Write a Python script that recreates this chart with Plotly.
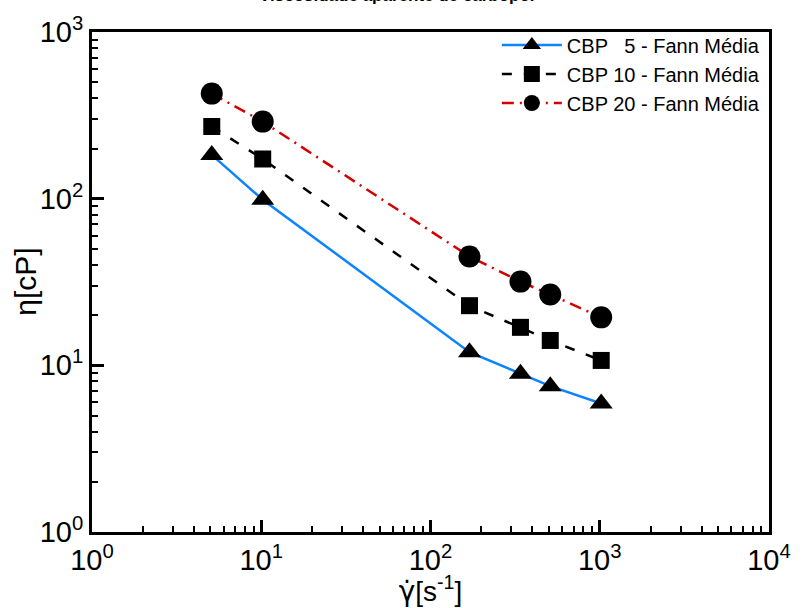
import plotly.graph_objects as go

shear_rate = [5.1, 10.2, 170, 340, 510, 1020]
cbp5 = [183, 98.6, 12.0, 8.9, 7.5, 5.9]
cbp10 = [271, 173, 22.8, 16.9, 14.1, 10.7]
cbp20 = [427, 290, 45, 31.8, 26.6, 19.4]

series_names = ["CBP   5 - Fann Média", "CBP 10 - Fann Média", "CBP 20 - Fann Média"]
tick_vals_x = [1, 10, 100, 1000, 10000]
tick_text_x = ["10<sup>0</sup>", "10<sup>1</sup>", "10<sup>2</sup>", "10<sup>3</sup>", "10<sup>4</sup>"]
tick_vals_y = [1, 10, 100, 1000]
tick_text_y = ["10<sup>0</sup>", "10<sup>1</sup>", "10<sup>2</sup>", "10<sup>3</sup>"]
minor_x = [k * 10 ** d for d in range(0, 4) for k in range(2, 10)]
minor_y = [k * 10 ** d for d in range(0, 3) for k in range(2, 10)]

FONT = "Liberation Sans, Arial, sans-serif"

fig = go.Figure()
fig.add_trace(go.Scatter(
    x=shear_rate, y=cbp5, name=series_names[0], mode="lines+markers",
    line=dict(color="#0a84ff", width=2.5, dash="solid"),
    marker=dict(symbol="triangle-up", size=20, color="black"),
))
fig.add_trace(go.Scatter(
    x=shear_rate, y=cbp10, name=series_names[1], mode="lines+markers",
    line=dict(color="black", width=2.5, dash="10px,12px"),
    marker=dict(symbol="square", size=17, color="black"),
))
fig.add_trace(go.Scatter(
    x=shear_rate, y=cbp20, name=series_names[2], mode="lines+markers",
    line=dict(color="#d40000", width=2.5, dash="12px,6px,2px,6px"),
    marker=dict(symbol="circle", size=22, color="black"),
))

axis_common = dict(
    type="log", showgrid=False, zeroline=False,
    showline=True, linecolor="black", linewidth=3, mirror=True,
    ticks="inside", ticklen=12, tickwidth=2.5, tickcolor="black",
    tickfont=dict(family=FONT, size=29, color="black"),
)

fig.update_xaxes(
    **axis_common, range=[0, 4], tickmode="array",
    tickvals=tick_vals_x, ticktext=tick_text_x,
    minor=dict(ticks="inside", ticklen=6, tickwidth=1.5, tickcolor="black",
               showgrid=False, tickmode="array", tickvals=minor_x),
    title=dict(text='<span style="font-family:DejaVu Sans">γ̇</span>[s<sup>-1</sup>]',
               font=dict(family=FONT, size=28, color="black"), standoff=0),
)
fig.update_yaxes(
    **axis_common, range=[0, 3], tickmode="array",
    tickvals=tick_vals_y, ticktext=tick_text_y,
    minor=dict(ticks="inside", ticklen=6, tickwidth=1.5, tickcolor="black",
               showgrid=False, tickmode="array", tickvals=minor_y),
)

fig.add_annotation(
    text="η[cP]", textangle=-90, xref="paper", yref="paper",
    x=-0.072, y=0.5, xanchor="right", yanchor="middle", showarrow=False,
    font=dict(family=FONT, size=30, color="black"),
)

# chart title, mostly cropped off the top edge as in the reference
fig.add_annotation(
    text="<b>Viscosidade aparente de carbopol</b>", xref="paper", yref="paper",
    x=0.45, y=1.0, xanchor="center", yanchor="bottom", yshift=25, showarrow=False,
    font=dict(family=FONT, size=17, color="black"),
)

fig.update_layout(
    width=803, height=608,
    margin=dict(l=92, r=27, t=30, b=76),
    paper_bgcolor="white", plot_bgcolor="white",
    font=dict(family=FONT, color="black"),
    showlegend=True,
    legend=dict(x=0.598, y=1.013, xanchor="left", yanchor="top",
                bgcolor="rgba(0,0,0,0)", borderwidth=0,
                font=dict(family=FONT, size=20, color="black"),
                itemwidth=60, tracegroupgap=0),
)

fig.write_html("out.html")
